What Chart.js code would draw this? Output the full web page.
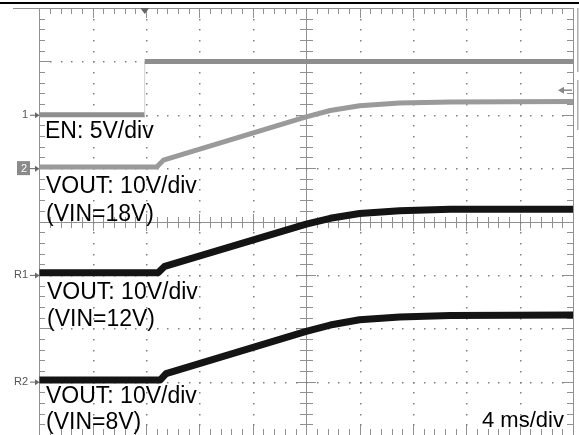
<!DOCTYPE html>
<html>
<head>
<meta charset="utf-8">
<script src="https://cdn.jsdelivr.net/npm/chart.js@4.4.1/dist/chart.umd.min.js"></script>
<style>
  html, body { margin: 0; padding: 0; background: #fff; overflow: hidden; }
  #wrap { width: 579px; height: 435px; }
</style>
</head>
<body>
<div id="wrap"><canvas id="scope"></canvas></div>
<script>
// horizontal: 4 ms/div over 10 divisions, vertical: 8 divisions
const msPerDiv = 4;
const divsX = 10;
const divsY = 8;

// channel setup (ground marker position in divisions, volts per division)
const chNames = ["1", "2", "R1", "R2"];
const chOffsetDiv = [2, 1, -1, -3];
const chVoltsPerDiv = [5, 10, 10, 10];

// EN step
const enTime = [0, 7.9, 7.9, 40];
const enVolts = [0, 0, 5, 5];

// VOUT soft-start, VIN = 18 V
const out18Time = [0, 8.8, 9.3, 20.0, 21.8, 24.0, 27.0, 30.8, 40];
const out18Volts = [0.2, 0.2, 1.5, 9.6, 10.8, 11.7, 12.2, 12.4, 12.5];

// VOUT soft-start, VIN = 12 V
const out12Time = [0, 8.9, 9.4, 20.0, 21.8, 24.0, 27.0, 30.8, 40];
const out12Volts = [0.4, 0.4, 1.6, 9.5, 10.6, 11.5, 12.0, 12.3, 12.3];

// VOUT soft-start, VIN = 8 V
const out8Time = [0, 9.05, 9.5, 20.0, 21.8, 24.0, 27.0, 30.8, 40];
const out8Volts = [0.3, 0.3, 1.5, 9.4, 10.6, 11.6, 12.1, 12.4, 12.5];

// trigger level on EN (volts)
const triggerLevel = 2.3;

const noteLines = ["EN: 5V/div", "VOUT: 10V/div", "(VIN=18V)", "VOUT: 10V/div", "(VIN=12V)", "VOUT: 10V/div", "(VIN=8V)"];
const timeBaseText = "4 ms/div";

const toDiv = (v, ch) => chOffsetDiv[ch] + v / chVoltsPerDiv[ch];
const trace = (times, volts, ch) => times.map((t, i) => ({ x: t, y: toDiv(volts[i], ch) }));

const scopeGrid = {
  id: "scopeGrid",
  beforeDatasetsDraw(chart) {
    const { ctx, chartArea: a, scales: { x, y } } = chart;
    const px = d => Math.round(x.getPixelForValue(d * msPerDiv));
    const py = d => Math.round(y.getPixelForValue(d - divsY / 2));
    const top = Math.round(a.top), bottom = Math.round(a.bottom);
    const left = px(0), right = px(divsX);
    ctx.save();

    // black bar above the screen
    ctx.fillStyle = "#000";
    ctx.fillRect(0, 2, chart.width, 2);

    // frame
    ctx.fillStyle = "#909090";
    ctx.fillRect(13, top, right - 13 + 1, 1);
    ctx.fillRect(left, top, 1, bottom - top);
    ctx.fillRect(right, top, 1, bottom - top);

    // centre cross
    const cx = px(divsX / 2), cy = py(divsY / 2);
    ctx.fillRect(left, cy, right - left, 1);
    ctx.fillRect(cx, top, 1, bottom - top);

    // edge and centre ticks, 5 per division
    for (let i = 0; i <= divsX * 5; i++) {
      const X = px(i / 5);
      const major = i % 5 === 0;
      ctx.fillRect(X, top, 1, major ? 10 : 6);
      ctx.fillRect(X, bottom - (major ? 10 : 6), 1, major ? 10 : 6);
      const h = major ? 8 : 5;
      ctx.fillRect(X, cy - h, 1, 2 * h + 1);
    }
    for (let j = 0; j <= divsY * 5; j++) {
      const Y = py(j / 5);
      const major = j % 5 === 0;
      ctx.fillRect(left, Y, major ? 11 : 6, 1);
      ctx.fillRect(right - (major ? 11 : 6), Y, major ? 11 : 6, 1);
      const w = major ? 9 : 6;
      ctx.fillRect(cx - w, Y, 2 * w + 1, 1);
    }

    // dotted graticule
    ctx.fillStyle = "#808080";
    for (let d = 1; d < divsX; d++) {
      if (d === divsX / 2) continue;
      const X = px(d);
      for (let j = 1; j < divsY * 5; j++) ctx.fillRect(X, py(j / 5), 1.5, 1.5);
    }
    for (let d = 1; d < divsY; d++) {
      if (d === divsY / 2) continue;
      const Y = py(d);
      for (let i = 1; i < divsX * 5; i++) ctx.fillRect(px(i / 5), Y, 1.5, 1.5);
    }

    // trigger position marker
    const tx = x.getPixelForValue(enTime[1]);
    ctx.fillStyle = "#666";
    ctx.beginPath();
    ctx.moveTo(tx - 4.5, top);
    ctx.lineTo(tx + 4.5, top);
    ctx.lineTo(tx, top + 6);
    ctx.closePath();
    ctx.fill();

    // trigger level marker on the right
    const ty = y.getPixelForValue(toDiv(triggerLevel, 0));
    ctx.strokeStyle = "#888";
    ctx.lineWidth = 1.5;
    ctx.beginPath();
    ctx.moveTo(562, ty);
    ctx.lineTo(572, ty);
    ctx.stroke();
    ctx.fillStyle = "#888";
    ctx.beginPath();
    ctx.moveTo(558, ty);
    ctx.lineTo(564, ty - 3.5);
    ctx.lineTo(564, ty + 3.5);
    ctx.closePath();
    ctx.fill();

    // side bar
    ctx.fillStyle = "#b0b0b0";
    ctx.fillRect(577, top, 1.5, 64);
    ctx.fillRect(577, 80, 1.5, 50);

    // channel ground markers
    ctx.font = "11px 'Liberation Sans', Arial, sans-serif";
    ctx.textBaseline = "middle";
    chNames.forEach((name, ch) => {
      const gy = y.getPixelForValue(chOffsetDiv[ch]);
      if (ch === 1) {
        ctx.fillStyle = "#8a8a8a";
        ctx.fillRect(17, gy - 7, 13, 14);
        ctx.fillStyle = "#fff";
        ctx.textAlign = "center";
        ctx.fillText(name, 24, gy + 0.5);
      } else {
        ctx.fillStyle = "#555";
        ctx.textAlign = "right";
        ctx.fillText(name, 28, gy + 0.5);
      }
      ctx.strokeStyle = "#666";
      ctx.lineWidth = 1;
      ctx.beginPath();
      ctx.moveTo(30, gy + 0.5);
      ctx.lineTo(37, gy + 0.5);
      ctx.stroke();
      ctx.fillStyle = "#666";
      ctx.beginPath();
      ctx.moveTo(39.5, gy + 0.5);
      ctx.lineTo(35, gy - 2.5);
      ctx.lineTo(35, gy + 3.5);
      ctx.closePath();
      ctx.fill();
    });
    ctx.restore();
  },
  afterDatasetsDraw(chart) {
    const { ctx } = chart;
    ctx.save();
    ctx.fillStyle = "#000";
    ctx.textAlign = "left";
    ctx.textBaseline = "alphabetic";
    ctx.font = "23px 'Liberation Sans', Arial, sans-serif";
    const spots = [[45, 138], [46, 193], [46, 221], [47, 299], [47, 326], [46, 403], [46, 429]];
    noteLines.forEach((t, i) => ctx.fillText(t, spots[i][0], spots[i][1]));
    ctx.font = "22px 'Liberation Sans', Arial, sans-serif";
    ctx.fillText(timeBaseText, 482, 427);
    ctx.restore();
  }
};

const stepIsVertical = c => c.p0.parsed.x === c.p1.parsed.x;

new Chart(document.getElementById("scope").getContext("2d"), {
  type: "line",
  data: {
    datasets: [
      {
        data: trace(enTime, enVolts, 0),
        borderColor: "#8e8e8e",
        borderWidth: 5,
        segment: {
          borderWidth: c => stepIsVertical(c) ? 1 : 5,
          borderColor: c => stepIsVertical(c) ? "#cfcfcf" : "#8e8e8e"
        }
      },
      {
        data: trace(out18Time, out18Volts, 1),
        borderColor: "#9a9a9a",
        borderWidth: 5
      },
      {
        data: trace(out12Time, out12Volts, 2),
        borderColor: "#141414",
        borderWidth: 7
      },
      {
        data: trace(out8Time, out8Volts, 3),
        borderColor: "#141414",
        borderWidth: 7
      }
    ]
  },
  options: {
    responsive: true,
    maintainAspectRatio: false,
    animation: false,
    events: [],
    layout: { padding: { left: 39.3, right: 5.9, top: 8, bottom: 0 } },
    elements: {
      point: { radius: 0 },
      line: { tension: 0, borderCapStyle: "butt", borderJoinStyle: "round" }
    },
    scales: {
      x: { type: "linear", min: 0, max: divsX * msPerDiv, display: false },
      y: { type: "linear", min: -divsY / 2, max: divsY / 2, display: false }
    },
    plugins: { legend: { display: false }, tooltip: { enabled: false } }
  },
  plugins: [scopeGrid]
});
</script>
</body>
</html>
